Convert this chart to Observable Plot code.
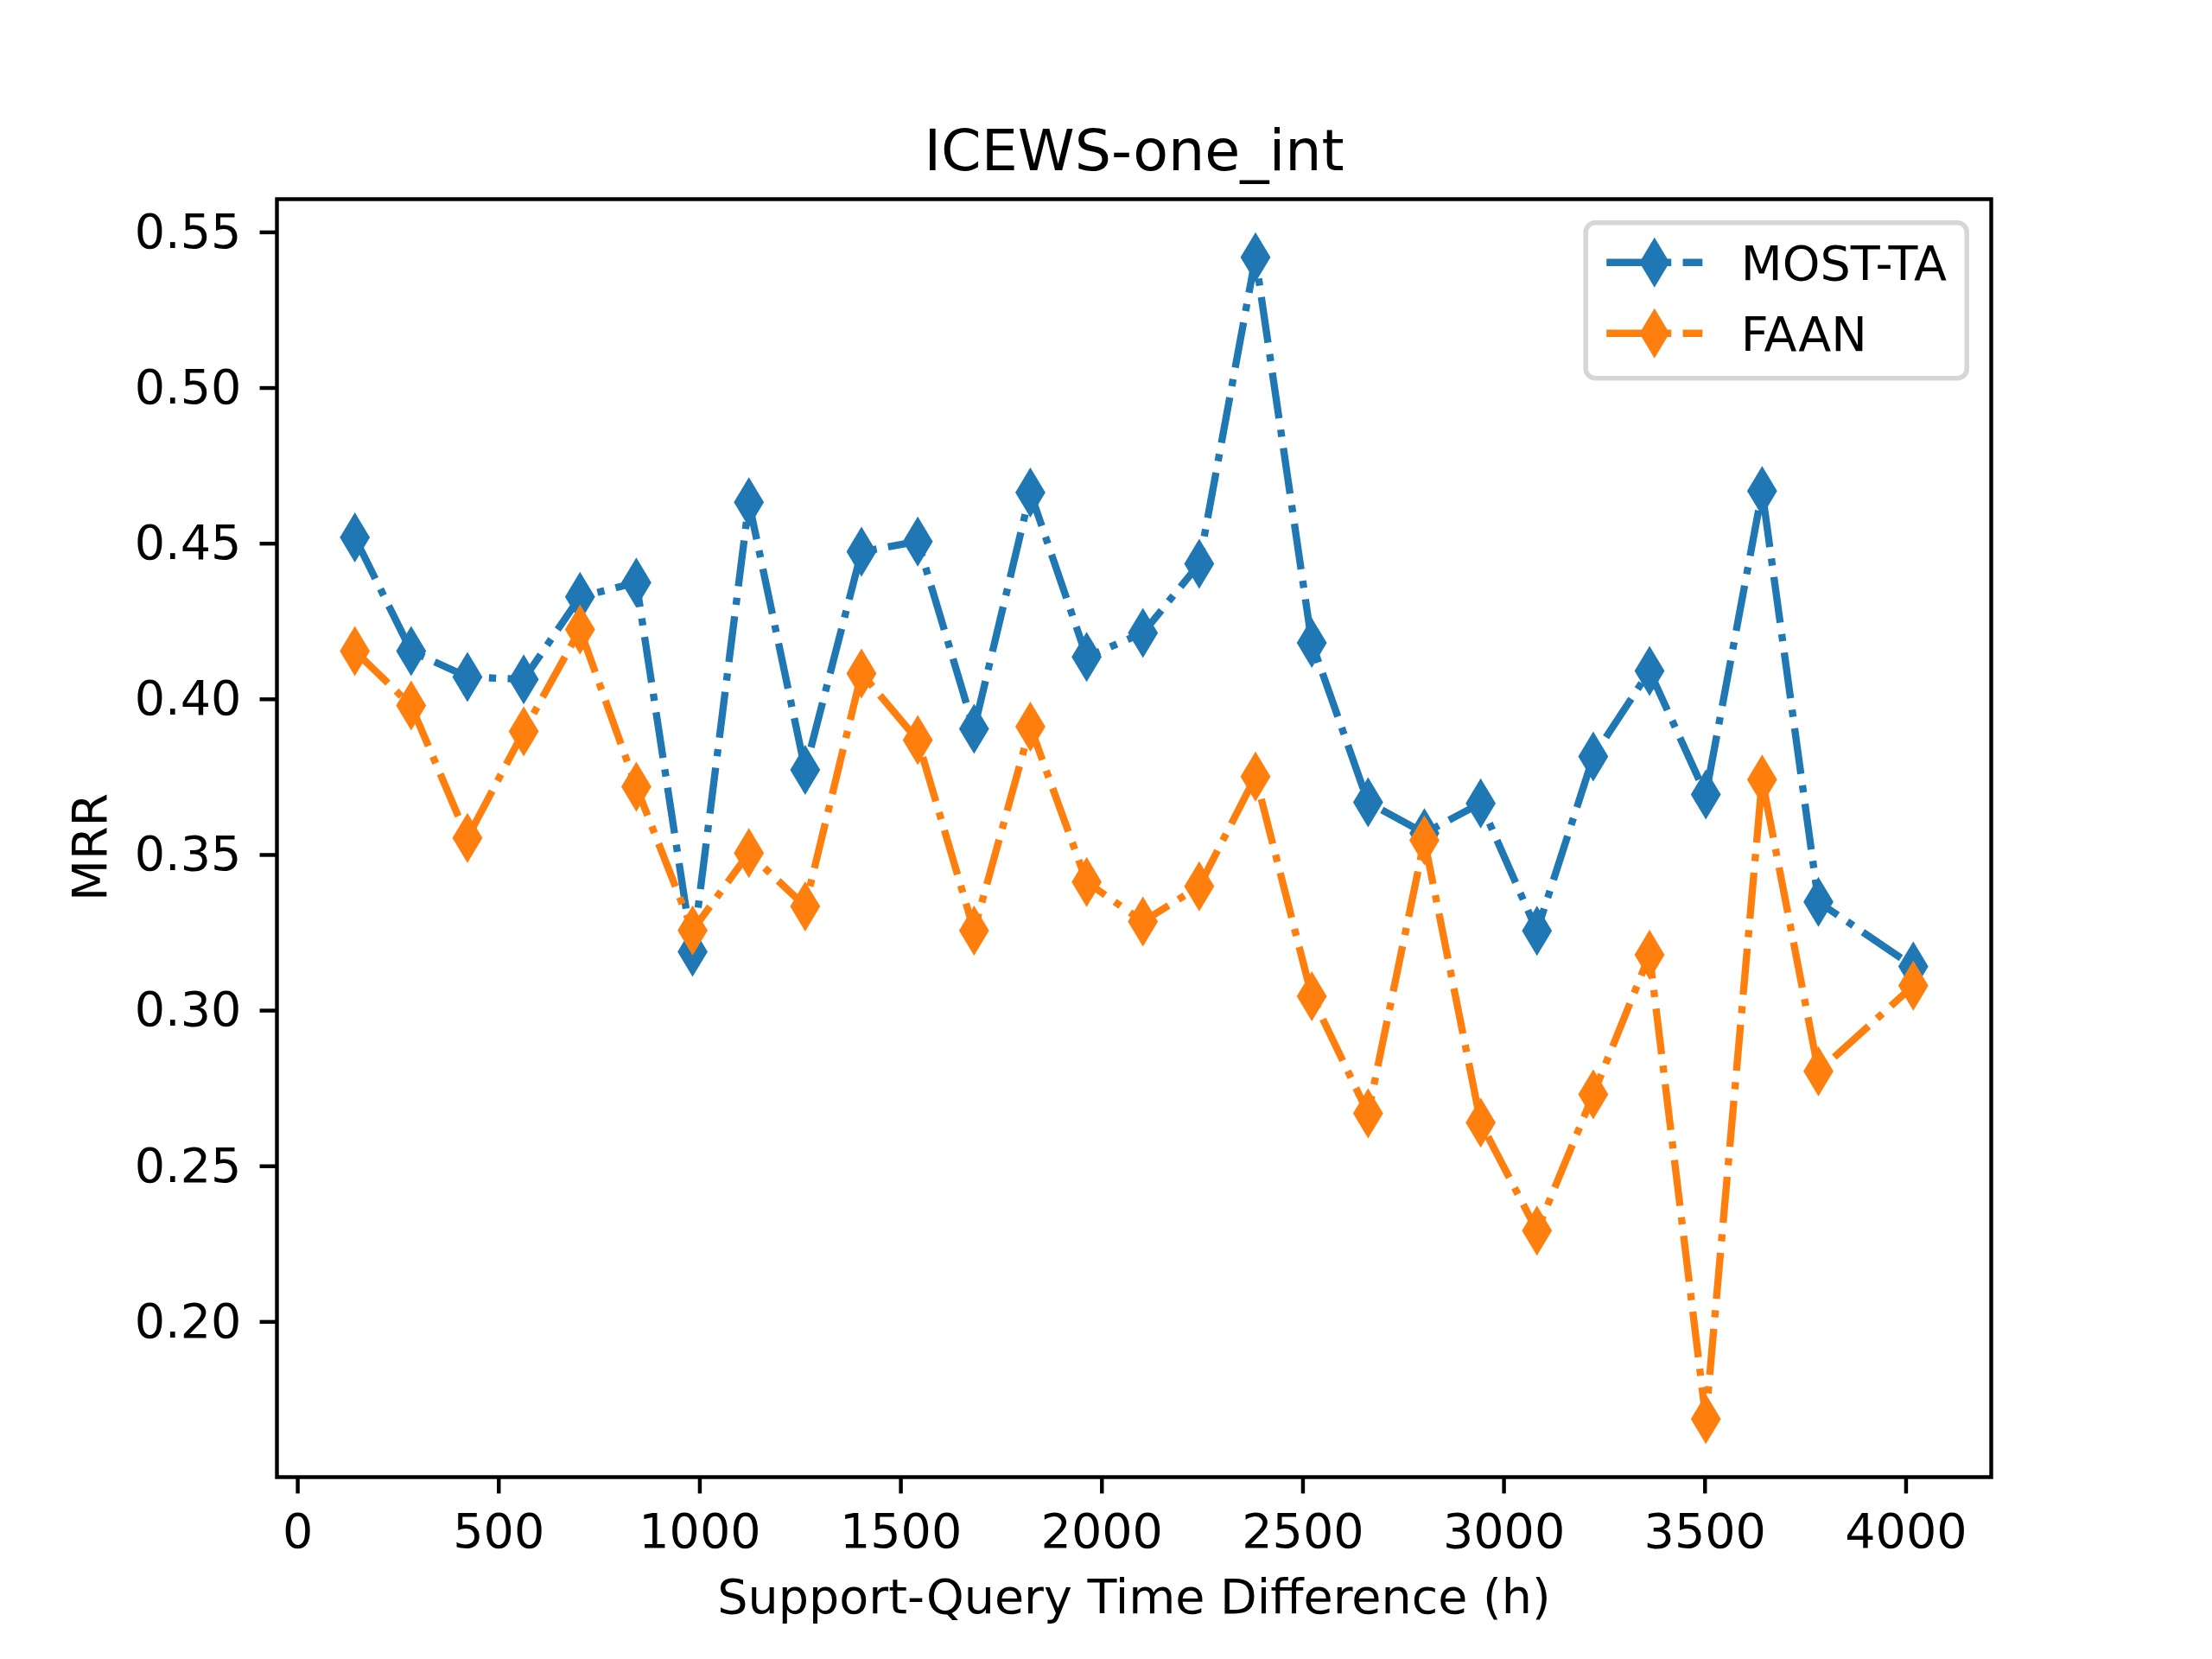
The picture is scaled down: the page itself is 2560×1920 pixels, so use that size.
<!DOCTYPE html>
<html>
<head>
<meta charset="utf-8">
<script src="https://cdn.jsdelivr.net/npm/d3@7"></script>
<script src="https://cdn.jsdelivr.net/npm/@observablehq/plot@0.6"></script>
<style>
  html, body { margin: 0; padding: 0; background: #ffffff; }
  #chart { width: 2560px; height: 1920px; }
</style>
</head>
<body>
<div id="chart"></div>
<script>
// ---- data ----
const titleText = "ICEWS-one_int";
const xLabel = "Support-Query Time Difference (h)";
const yLabel = "MRR";
const seriesNames = ["MOST-TA", "FAAN"];
const seriesColors = ["#1f77b4", "#ff7f0e"];
const timeDiff = [142, 282, 422, 562, 702, 842, 982, 1122, 1262, 1402, 1542, 1682, 1822, 1962,
                  2102, 2242, 2382, 2522, 2662, 2802, 2942, 3082, 3222, 3362, 3502, 3642, 3782, 4018];
const mostTA = [0.4520, 0.4155, 0.4072, 0.4064, 0.4329, 0.4375, 0.3189, 0.4633, 0.3773, 0.4474,
                0.4507, 0.3905, 0.4664, 0.4136, 0.4213, 0.4435, 0.5420, 0.4181, 0.3669, 0.3570,
                0.3666, 0.3256, 0.3816, 0.4091, 0.3694, 0.4669, 0.3349, 0.3142];
const faan = [0.4155, 0.3980, 0.3555, 0.3897, 0.4224, 0.3719, 0.3258, 0.3506, 0.3335, 0.4083,
              0.3869, 0.3257, 0.3912, 0.3413, 0.3286, 0.3399, 0.3752, 0.3046, 0.2670, 0.3547,
              0.2640, 0.2293, 0.2731, 0.3179, 0.1688, 0.3742, 0.2805, 0.3080];
const xTicks = [0, 500, 1000, 1500, 2000, 2500, 3000, 3500, 4000];
const yTicks = [0.20, 0.25, 0.30, 0.35, 0.40, 0.45, 0.50, 0.55];

// ---- layout (matplotlib 6.4x4.8 in @ 400 dpi) ----
const W = 2560, H = 1920;
const mL = 320, mR = 256, mT = 230, mB = 211;
const PT = 400 / 72;
const fs = 10 * PT;          // 55.6 px
const lw = 1.5 * PT;         // 8.33 px
const axw = 0.8 * PT;        // 4.44 px
const tickLen = 3.5 * PT;    // 19.4 px
const dash = [6.4, 1.6, 1, 1.6].map(v => v * lw).join(" ");

const seriesValues = [mostTA, faan];
const rows = seriesNames.map((name, i) =>
  timeDiff.map((t, j) => ({series: name, x: t, y: seriesValues[i][j]})));

function padded(vals) {
  const [a, b] = d3.extent(vals);
  const m = (b - a) * 0.05;
  return [a - m, b + m];
}
const xDomain = padded(timeDiff);
const yDomain = padded(mostTA.concat(faan));

const thinDiamond = {
  draw(ctx, size) {
    const r = Math.sqrt(size / Math.PI);
    ctx.moveTo(0, -r);
    ctx.lineTo(0.6 * r, 0);
    ctx.lineTo(0, r);
    ctx.lineTo(-0.6 * r, 0);
    ctx.closePath();
  }
};

const marks = [];
rows.forEach((data, i) => {
  marks.push(Plot.line(data, {
    x: "x", y: "y", stroke: seriesColors[i], strokeWidth: lw,
    strokeDasharray: dash, strokeLinecap: "butt", strokeLinejoin: "round"
  }));
  marks.push(Plot.dot(data, {
    x: "x", y: "y", fill: seriesColors[i], stroke: "none", r: 29, symbol: thinDiamond
  }));
});

const plot = Plot.plot({
  width: W, height: H,
  marginLeft: mL, marginRight: mR, marginTop: mT, marginBottom: mB,
  style: {fontFamily: "DejaVu Sans", background: "#ffffff", color: "#000000"},
  x: {domain: xDomain, nice: false, axis: null},
  y: {domain: yDomain, nice: false, axis: null},
  marks: [
    Plot.axisX(xTicks, {
      anchor: "bottom", tickSize: tickLen, tickPadding: 23, fontSize: fs,
      strokeWidth: axw, tickFormat: d => String(d), label: null
    }),
    Plot.axisY(yTicks, {
      anchor: "left", tickSize: tickLen, tickPadding: 21.6, fontSize: fs,
      strokeWidth: axw, tickFormat: d3.format(".2f"), label: null
    }),
    ...marks,
    Plot.frame({stroke: "#000000", strokeWidth: axw}),
    Plot.text([titleText], {
      text: d => d, frameAnchor: "top", dy: -6 * PT, lineAnchor: "bottom",
      fontSize: 12 * PT, fill: "#000000"
    }),
    Plot.text([xLabel], {
      text: d => d, frameAnchor: "bottom", dy: 157, lineAnchor: "bottom",
      fontSize: fs, fill: "#000000"
    }),
    Plot.text([yLabel], {
      text: d => d, frameAnchor: "left", dx: -198, dy: 73, rotate: -90, lineAnchor: "bottom",
      fontSize: fs, fill: "#000000"
    })
  ]
});
document.getElementById("chart").appendChild(plot);

// ---- legend (upper right, matplotlib style) ----
const svg = d3.select(plot);
const pad = 0.5 * fs;
const boxRight = W - mR - pad;
const boxTop = mT + pad;
const boxW = 441, boxH = 180;
const lg = svg.append("g").attr("font-family", "DejaVu Sans").attr("text-anchor", "start");
lg.append("rect")
  .attr("x", boxRight - boxW).attr("y", boxTop)
  .attr("width", boxW).attr("height", boxH)
  .attr("rx", 0.2 * fs).attr("ry", 0.2 * fs)
  .attr("fill", "#ffffff").attr("fill-opacity", 0.8)
  .attr("stroke", "#d6d6d6").attr("stroke-width", PT);
const handleX0 = boxRight - boxW + 24;
const handleLen = 2 * fs;
const rowY0 = boxTop + 46, rowStep = 82;
const sym = d3.symbol(thinDiamond, Math.PI * 29 * 29);
seriesNames.forEach((name, i) => {
  const cy = rowY0 + i * rowStep;
  lg.append("line")
    .attr("x1", handleX0).attr("x2", handleX0 + handleLen)
    .attr("y1", cy).attr("y2", cy)
    .attr("stroke", seriesColors[i]).attr("stroke-width", lw)
    .attr("stroke-dasharray", dash).attr("stroke-linecap", "butt");
  lg.append("path")
    .attr("d", sym())
    .attr("transform", `translate(${handleX0 + handleLen / 2},${cy})`)
    .attr("fill", seriesColors[i]);
  lg.append("text")
    .attr("x", handleX0 + handleLen + 0.8 * fs).attr("y", cy + 20)
    .attr("font-size", fs).attr("fill", "#000000")
    .attr("text-anchor", "start")
    .text(name);
});
</script>
</body>
</html>
